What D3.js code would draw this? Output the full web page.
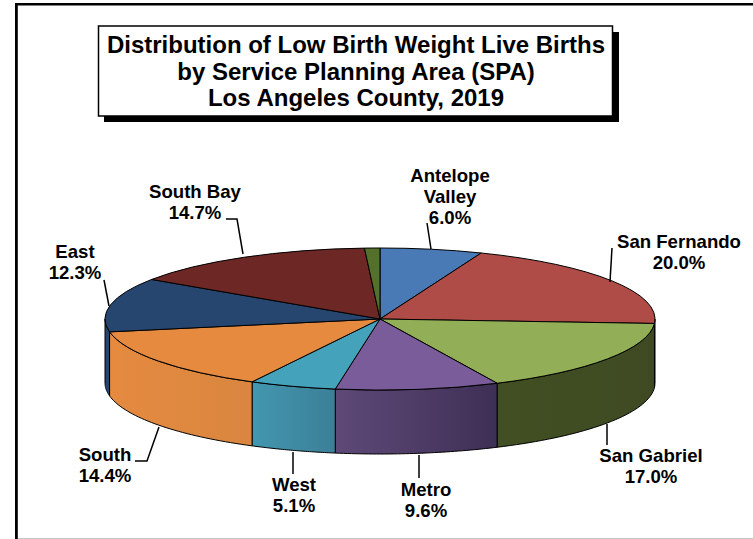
<!DOCTYPE html>
<html><head><meta charset="utf-8">
<script src="https://cdn.jsdelivr.net/npm/d3@7"></script>
<style>html,body{margin:0;padding:0;background:#fff}svg{display:block}text{font-family:"Liberation Sans",Arial,sans-serif;font-weight:bold;fill:#000}</style>
</head><body><svg id="c" width="753" height="539"></svg>
<script>
const categories=["Antelope Valley","San Fernando","San Gabriel","Metro","West","South","East","South Bay","Other"];
const values=[6.0,20.0,17.0,9.6,5.1,14.4,12.3,14.7,0.9];
const topColors=["#4a7ab5","#b04c48","#92ae57","#795c99","#45a2bb","#e58a3f","#26466f","#6d2825","#55702b"];
const sideStart=["#3a6090","#8c3c39","#414f22","#5e4977","#4297af","#e58a3f","#26466f","#6d2825","#55702b"];
const sideEnd=["#3a6090","#8c3c39","#3f4a22","#3e2f55","#3c7f98","#d98640","#26466f","#6d2825","#55702b"];
const titleLines=["Distribution of Low Birth Weight Live Births","by Service Planning Area (SPA)","Los Angeles County, 2019"];
const labelLines=[["Antelope","Valley","6.0%"],["San Fernando","20.0%"],["San Gabriel","17.0%"],["Metro","9.6%"],["West","5.1%"],["South","14.4%"],["East","12.3%"],["South Bay","14.7%"]];
const labelAnchors=[[450,182],[679,248],[651,462],[426,496],[294,491],[105,461],[75,258],[195,198]];
const leaders=[[[427,223],[431,249]],[[612,248],[610,282]],[[607,424],[607,445]],[[419,455],[419,478]],[[293,452],[293,474]],[[159,427],[147,461],[135,461]],[[104,280],[109,306]],[[226,219],[237,219],[243,254]]];

const svg=d3.select("#c");
const cx=380,cy=319,rx=275,ry=71,depth=64;
const ellipse=a=>[cx+rx*Math.sin(a),cy-ry*Math.cos(a)];
const pie=d3.pie().sort(null).value(d=>d)(values);
const defs=svg.append("defs");
const lineGen=d3.line();

// frame
svg.append("rect").attr("x",15).attr("y",3).attr("width",738).attr("height",2.5).attr("fill","#000");
svg.append("rect").attr("x",15).attr("y",3).attr("width",2.8).attr("height",536).attr("fill","#000");
svg.append("rect").attr("x",18).attr("y",538).attr("width",735).attr("height",1).attr("fill","#c8c8c8");

// title box
svg.append("rect").attr("x",104).attr("y",32).attr("width",515).attr("height",90).attr("fill","#000");
svg.append("rect").attr("x",98.5).attr("y",26).attr("width",514).attr("height",90).attr("fill","#fff").attr("stroke","#000").attr("stroke-width",1.5);
svg.append("g").selectAll("text").data(titleLines).join("text").attr("x",356).attr("y",(d,i)=>53+i*26.5)
  .attr("text-anchor","middle").attr("font-size",24).text(d=>d);

// sides: visible lower half only (angle between PI/2 and 3PI/2)
const sides=pie.map((d,i)=>({i,a0:Math.max(d.startAngle,Math.PI/2),a1:Math.min(d.endAngle,Math.PI*1.5)})).filter(d=>d.a1>d.a0);
sides.forEach(s=>{
  const [x0]=ellipse(s.a0),[x1]=ellipse(s.a1);
  const g=defs.append("linearGradient").attr("id","g"+s.i).attr("gradientUnits","userSpaceOnUse")
    .attr("x1",x1).attr("x2",x0).attr("y1",0).attr("y2",0);
  g.append("stop").attr("offset",0).attr("stop-color",sideStart[s.i]);
  g.append("stop").attr("offset",1).attr("stop-color",sideEnd[s.i]);
  const top=d3.range(0,41).map(k=>ellipse(s.a0+(s.a1-s.a0)*k/40));
  const bot=top.map(p=>[p[0],p[1]+depth]).reverse();
  svg.append("path").attr("d",lineGen(top.concat(bot))+"Z").attr("fill",`url(#g${s.i})`)
    .attr("stroke","#000").attr("stroke-width",1).attr("stroke-linejoin","round");
});

// top faces
const arc=d3.arc().innerRadius(0).outerRadius(rx);
svg.append("g").attr("transform",`translate(${cx},${cy}) scale(1,${ry/rx})`)
  .selectAll("path").data(pie).join("path").attr("d",arc).attr("fill",(d,i)=>topColors[i])
  .attr("stroke","#000").attr("stroke-width",1).attr("vector-effect","non-scaling-stroke").attr("stroke-linejoin","round");

// leaders
svg.append("g").selectAll("path").data(leaders).join("path").attr("d",d=>lineGen(d)).attr("fill","none").attr("stroke","#000").attr("stroke-width",1.5);

// labels
labelLines.forEach((lines,i)=>{
  const [x,y]=labelAnchors[i];
  svg.append("g").selectAll("text").data(lines).join("text").attr("x",x).attr("y",(d,k)=>y+k*21)
    .attr("text-anchor","middle").attr("font-size",18.6).text(d=>d);
});
</script></body></html>
